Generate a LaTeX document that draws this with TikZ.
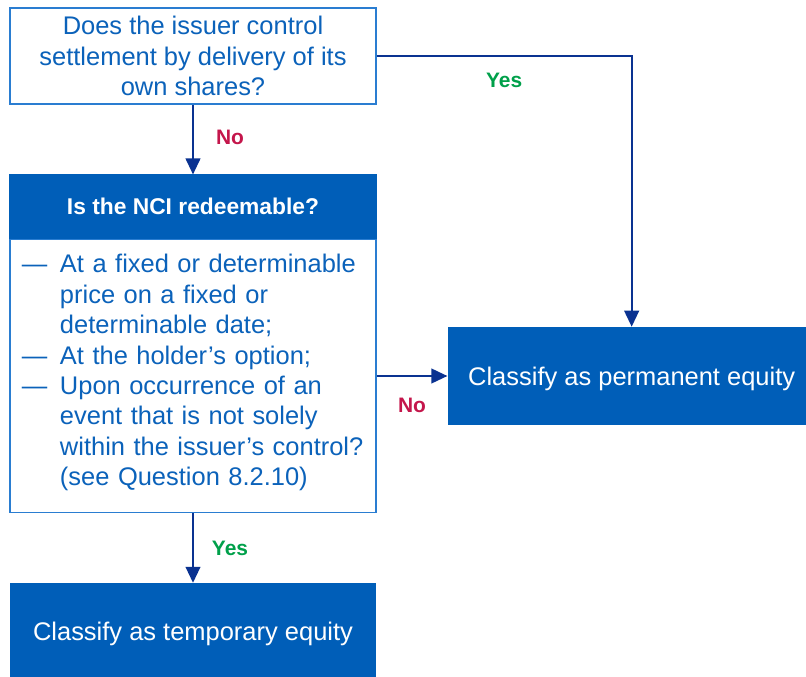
\documentclass[tikz,border=0pt]{standalone}
\usepackage{fontspec}
\setmainfont{Liberation Sans}
\definecolor{kblue}{HTML}{005EB8}
\definecolor{kline}{HTML}{2A7DD1}
\definecolor{ktext}{HTML}{0B62BA}
\definecolor{knavy}{HTML}{0A3291}
\definecolor{kred}{HTML}{C4164B}
\definecolor{kgreen}{HTML}{00A04A}
\usetikzlibrary{arrows.meta,positioning,calc}
\newcommand{\dsh}{\makebox[28.5pt][l]{—}}
\newcommand{\ind}{\hspace*{28.5pt}}

\begin{document}
\begin{tikzpicture}[
  node distance=52.3pt and 53pt,
  qbox/.style={draw=kline, line width=1.1pt, align=center, text=ktext,
              font=\fontsize{19.1pt}{22.8pt}\selectfont, minimum height=72pt,
              minimum width=274.5pt, inner sep=0pt, fill=white},
  hdr/.style ={draw=kblue, line width=1.1pt, fill=kblue, text=white,
              font=\fontsize{17.1pt}{20pt}\selectfont\bfseries,
              minimum height=47.25pt, minimum width=274.5pt, inner sep=0pt},
  listbox/.style={draw=kline, line width=1.1pt, align=left, text=ktext,
              font=\fontsize{19.1pt}{22.8pt}\selectfont, text width=256.5pt,
              inner xsep=9pt, inner ysep=0pt, minimum height=204.5pt},
  endbox/.style={fill=kblue, text=white, font=\fontsize{19.1pt}{22.8pt}\selectfont,
              minimum height=72pt, minimum width=274.5pt, inner sep=0pt,
              text depth=0pt},
  ar/.style ={-{Triangle[length=12pt,width=11pt]}, line width=1.5pt, draw=knavy},
  lbl/.style={font=\fontsize{15.7pt}{18pt}\selectfont\bfseries, inner sep=0pt},
]
  % ---- page frame (box ctrl sits at the origin) ----
  \useasboundingbox (-144.75pt,42pt) rectangle ++(604.5pt,-507.75pt);

  % ---- left column ----
  \node[qbox] (ctrl) at (0,0) {Does the issuer control\\settlement by delivery of its\\own shares?};
  \node[hdr, below=of ctrl] (nci) {Is the NCI redeemable?};
  \node[listbox, below=0pt of nci] (crit)
    {\dsh At a fixed or determinable\\
     \ind price on a fixed or\\
     \ind determinable date;\\
     \dsh At the holder’s option;\\
     \dsh Upon occurrence of an\\
     \ind event that is not solely\\
     \ind within the issuer’s control?\\
     \ind (see Question 8.2.10)\\[-14pt]\mbox{}};
  \node[endbox, below=of crit] (temp) {Classify as temporary equity};

  % ---- right outcome ----
  \node[endbox, minimum height=73.5pt, minimum width=276pt, right=of crit] (perm)
    {Classify as permanent equity};

  % ---- connectors ----
  \draw[ar] (ctrl) -- node[lbl, text=kred, xshift=27.75pt, yshift=2pt] {No} (nci);
  \draw[ar] (ctrl.east) -| node[lbl, text=kgreen, pos=0.25, yshift=-18pt] {Yes} (perm.north);
  \draw[ar] (crit) -- node[lbl, text=kred, yshift=-21.75pt] {No} (perm);
  \draw[ar] (crit) -- node[lbl, text=kgreen, xshift=27.75pt] {Yes} (temp);
\end{tikzpicture}
\end{document}
